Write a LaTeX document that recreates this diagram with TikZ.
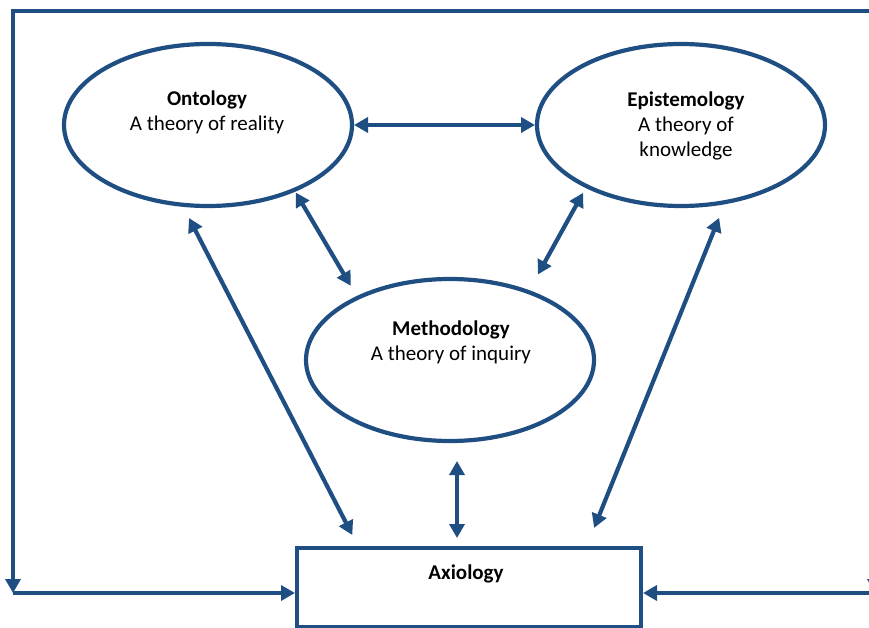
\documentclass[tikz,border=0pt]{standalone}
\usepackage{fontspec}
\setmainfont{Carlito}
\usetikzlibrary{shapes.geometric,arrows.meta}
\definecolor{paradigmblue}{RGB}{31,78,130}
\begin{document}
\begin{tikzpicture}[x=1pt,y=-1pt,
  tip/.tip={Triangle[length=14pt,width=15pt]},
  concept/.style={ellipse, draw=paradigmblue, line width=4.2pt,
    minimum width=288pt, minimum height=162pt, inner sep=0pt, outer sep=0pt},
  valuebox/.style={rectangle, draw=paradigmblue, line width=4.2pt,
    minimum width=344pt, minimum height=79pt, inner sep=0pt, outer sep=0pt},
  link/.style={draw=paradigmblue, line width=4.2pt, tip-tip},
  feed/.style={draw=paradigmblue, line width=4.2pt, -tip},
  txt/.style={font=\fontsize{21}{25}\selectfont, align=center, text=black, inner sep=0pt}
]
\useasboundingbox (0,0) rectangle (869,628);

% the four branches of philosophy
\node[concept] (onto) at (208,125) {};
\node[concept] (epis) at (681,125) {};
\node[concept] (meth) at (450,360) {};
\node[valuebox] (axio) at (469,587.5) {};

\node[txt] (onto-t) at (207,112) {\textbf{Ontology}\\A theory of reality};
\node[txt] (epis-t) at (686,126) {\textbf{Epistemology}\\A theory of\\knowledge};
\node[txt] (meth-t) at (451,342) {\textbf{Methodology}\\A theory of inquiry};
\node[txt] (axio-t) at (466,574) {\textbf{Axiology}};

% two-way links between the branches
\draw[link, shorten <=2pt, shorten >=2pt] (onto.east) -- (epis.west);
\draw[link, shorten <=3pt, shorten >=14pt] (onto.-37) -- (meth.146);
\draw[link, shorten <=7.5pt, shorten >=20pt] (epis.213) -- (meth.41);
\draw[link, shorten <=15pt, shorten >=14.6pt] (onto.-108.7) -- ([xshift=62pt]axio.north west);
\draw[link, shorten <=17pt, shorten >=21.6pt] (epis.-60.7) -- ([xshift=-55pt]axio.north east);
\draw[link, shorten <=20pt, shorten >=10pt] ([xshift=7pt]meth.south) -- ([xshift=-12pt]axio.north);

% outer feedback frame
\coordinate (tl) at (13,11);
\coordinate (tr) at (875,11);
\coordinate (bl) at (13,593);
\coordinate (br) at (875,593);
\draw[link] (bl) -- (tl) -- (tr) -- (br);
\draw[feed, shorten >=2pt] (bl) -- (bl -| axio.west);
\draw[feed, shorten >=2pt] (br) -- (br -| axio.east);
\end{tikzpicture}
\end{document}
